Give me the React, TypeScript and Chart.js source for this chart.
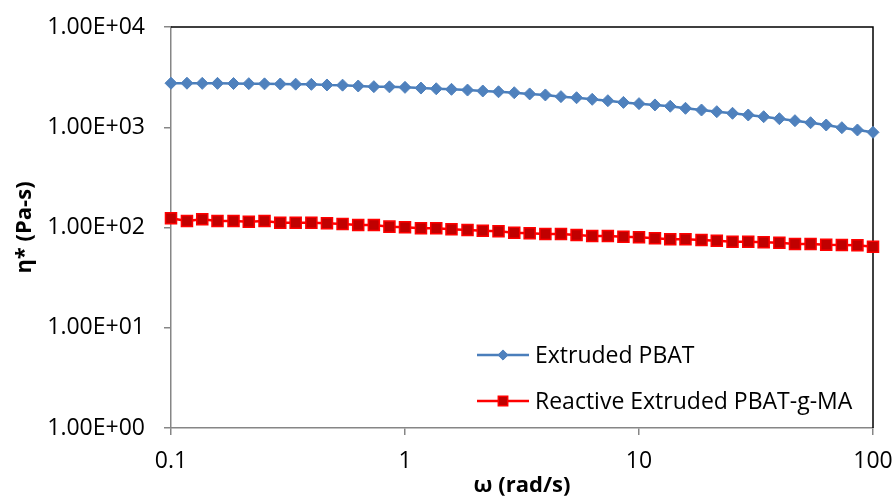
import React, { useEffect, useRef } from "react";
import { Chart, registerables } from "chart.js";
import { drawPoint } from "chart.js/helpers";

Chart.register(...registerables);

const frequency: number[] = [
  0.1, 0.117, 0.136, 0.158, 0.185, 0.215, 0.251, 0.293, 0.341, 0.398, 0.464, 0.541, 0.631, 0.736, 0.858,
  1, 1.17, 1.36, 1.58, 1.85, 2.15, 2.51, 2.93, 3.41, 3.98, 4.64, 5.41, 6.31, 7.36, 8.58,
  10, 11.7, 13.6, 15.8, 18.5, 21.5, 25.1, 29.3, 34.1, 39.8, 46.4, 54.1, 63.1, 73.6, 85.8, 100,
];

const extrudedPBAT: number[] = [
  2750, 2750, 2740, 2740, 2730, 2720, 2710, 2700, 2690, 2680, 2640, 2630, 2580, 2540, 2530,
  2500, 2460, 2420, 2390, 2350, 2300, 2260, 2210, 2150, 2100, 2020, 1970, 1900, 1840, 1770,
  1720, 1670, 1620, 1545, 1486, 1430, 1378, 1325, 1274, 1217, 1163, 1110, 1053, 990, 939, 890,
];

const reactivePBATgMA: number[] = [
  123.5, 116, 120.7, 116, 116, 114.3, 116, 111.7, 111.7, 111.7, 110, 108.4, 106, 106, 102,
  100.5, 98.2, 98.2, 96, 94.4, 92.9, 91.6, 88.8, 87.5, 86.1, 86.1, 84.2, 82.3, 82.3, 80.9,
  79.8, 78, 76.3, 76.3, 75, 73.8, 72.2, 72.2, 71.2, 70.5, 68.5, 68.5, 67.4, 66.9, 66.5, 64.3,
];

const seriesNames: string[] = ["Extruded PBAT", "Reactive Extruded PBAT-g-MA"];

const xTickValues: number[] = [0.1, 1, 10, 100];
const xTickLabels: string[] = ["0.1", "1", "10", "100"];
const yTickValues: number[] = [1, 10, 100, 1000, 10000];
const yTickLabels: string[] = ["1.00E+00", "1.00E+01", "1.00E+02", "1.00E+03", "1.00E+04"];

const xTitle = "ω (rad/s)";
const yTitle = "η* (Pa-s)";

const FONT = "'Open Sans', 'Liberation Sans', sans-serif";
const AXIS_GRAY = "#868686";

const frameLines = {
  id: "frameLines",
  beforeDatasetsDraw(chart: any) {
    const { ctx, chartArea } = chart;
    ctx.save();
    ctx.strokeStyle = "#000000";
    ctx.lineWidth = 1.5;
    ctx.beginPath();
    ctx.moveTo(chartArea.left, chartArea.top);
    ctx.lineTo(chartArea.right, chartArea.top);
    ctx.lineTo(chartArea.right, chartArea.bottom);
    ctx.stroke();
    ctx.restore();
  },
};

const insideLegend = {
  id: "insideLegend",
  afterDraw(chart: any) {
    const { ctx, chartArea } = chart;
    chart.data.datasets.forEach((ds: any, i: number) => {
      const y = chartArea.top + 328 + i * 46;
      const x0 = chartArea.left + 306;
      const x1 = x0 + 52;
      ctx.save();
      ctx.strokeStyle = ds.borderColor;
      ctx.lineWidth = ds.borderWidth;
      ctx.beginPath();
      ctx.moveTo(x0, y);
      ctx.lineTo(x1, y);
      ctx.stroke();
      ctx.fillStyle = ds.pointBackgroundColor;
      ctx.strokeStyle = ds.pointBorderColor;
      ctx.lineWidth = ds.pointBorderWidth;
      drawPoint(
        ctx,
        { pointStyle: ds.pointStyle, radius: ds.pointRadius * 0.85, borderWidth: ds.pointBorderWidth, rotation: 0 },
        (x0 + x1) / 2,
        y
      );
      ctx.fillStyle = "#000000";
      ctx.font = `23px ${FONT}`;
      ctx.textAlign = "left";
      ctx.textBaseline = "alphabetic";
      ctx.fillText(ds.label, x1 + 6, y + 8);
      ctx.restore();
    });
  },
};

export default function App() {
  const canvasRef = useRef<HTMLCanvasElement | null>(null);

  useEffect(() => {
    if (!canvasRef.current) return;
    const chart = new Chart(canvasRef.current, {
      type: "line",
      data: {
        datasets: [
          {
            label: seriesNames[0],
            data: frequency.map((f, i) => ({ x: f, y: extrudedPBAT[i] })),
            borderColor: "#4A7EBB",
            backgroundColor: "#4F81BD",
            borderWidth: 2.5,
            pointStyle: "rectRot",
            pointRadius: 6,
            pointBackgroundColor: "#4F81BD",
            pointBorderColor: "#4F81BD",
            pointBorderWidth: 1,
            tension: 0,
            clip: false,
          } as any,
          {
            label: seriesNames[1],
            data: frequency.map((f, i) => ({ x: f, y: reactivePBATgMA[i] })),
            borderColor: "#FF0000",
            backgroundColor: "#C00000",
            borderWidth: 2.5,
            pointStyle: "rect",
            pointRadius: 7.8,
            pointBackgroundColor: "#C00000",
            pointBorderColor: "#FF0000",
            pointBorderWidth: 1.5,
            tension: 0,
            clip: false,
          } as any,
        ],
      },
      options: {
        animation: false,
        responsive: false,
        events: [],
        layout: { padding: { left: 0, top: 27, right: 22, bottom: 0 } },
        plugins: {
          legend: { display: false },
          tooltip: { enabled: false },
        },
        scales: {
          x: {
            type: "logarithmic",
            min: 0.1,
            max: 100,
            afterBuildTicks: (scale: any) => {
              scale.ticks = xTickValues.map((v) => ({ value: v }));
            },
            afterFit: (scale: any) => {
              scale.height = 68;
              scale.paddingLeft = 0;
              scale.paddingRight = 0;
              scale.paddingTop = 0;
              scale.paddingBottom = 0;
            },
            ticks: {
              autoSkip: false,
              maxRotation: 0,
              padding: 13,
              color: "#000000",
              font: { family: FONT, size: 23 },
              callback: (_v: any, idx: number) => xTickLabels[idx],
            },
            grid: { drawOnChartArea: false, drawTicks: true, tickLength: 7, color: AXIS_GRAY, lineWidth: 1.5 },
            border: { display: true, color: AXIS_GRAY, width: 1.5 },
            title: {
              display: true,
              text: xTitle,
              color: "#000000",
              font: { family: FONT, size: 22, weight: "bold", lineHeight: 1 },
              padding: { top: 0, bottom: -1 },
            },
          },
          y: {
            type: "logarithmic",
            min: 1,
            max: 10000,
            afterBuildTicks: (scale: any) => {
              scale.ticks = yTickValues.map((v) => ({ value: v }));
            },
            afterFit: (scale: any) => {
              scale.width = 171;
              scale.paddingLeft = 0;
              scale.paddingRight = 0;
              scale.paddingTop = 0;
              scale.paddingBottom = 0;
            },
            ticks: {
              autoSkip: false,
              padding: 19,
              color: "#000000",
              font: { family: FONT, size: 23 },
              callback: (_v: any, idx: number) => yTickLabels[idx],
            },
            grid: { drawOnChartArea: false, drawTicks: true, tickLength: 7, color: AXIS_GRAY, lineWidth: 1.5 },
            border: { display: true, color: AXIS_GRAY, width: 1.5 },
            title: {
              display: true,
              text: yTitle,
              color: "#000000",
              font: { family: FONT, size: 22, weight: "bold", lineHeight: 1 },
              padding: { top: 14, bottom: 0 },
            },
          },
        },
      } as any,
      plugins: [frameLines, insideLegend],
    });
    return () => chart.destroy();
  }, []);

  return (
    <div style={{ position: "absolute", left: 0, top: 0, width: 895, height: 496, background: "#ffffff" }}>
      <canvas ref={canvasRef} width={895} height={496} style={{ display: "block" }} />
    </div>
  );
}
